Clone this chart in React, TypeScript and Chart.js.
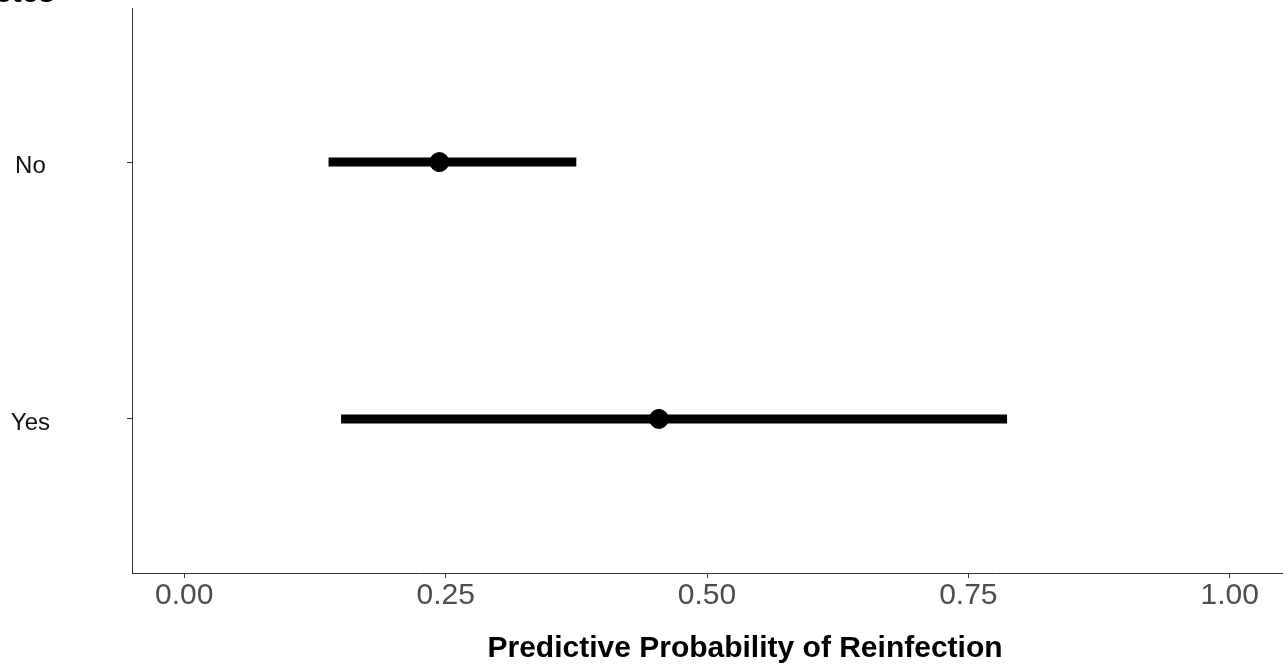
import React, { useEffect, useRef } from "react";
import { Chart, registerables } from "chart.js";

Chart.register(...registerables);

const categories: string[] = ["No", "Yes"];
const estimates: number[] = [0.244, 0.454];
const lowerBounds: number[] = [0.138, 0.15];
const upperBounds: number[] = [0.375, 0.787];
const xTickValues: number[] = [0, 0.25, 0.5, 0.75, 1];
const xTitle = "Predictive Probability of Reinfection";
const yTitle = "Diabetes";

const FONT = "'Liberation Sans', Arial, Helvetica, sans-serif";

export default function App() {
  const canvasRef = useRef<HTMLCanvasElement | null>(null);

  useEffect(() => {
    const canvas = canvasRef.current;
    if (!canvas) return;

    const rangeSets = categories.map((c, i) => ({
      type: "scatter" as const,
      label: c + " range",
      data: [
        { x: lowerBounds[i], y: i + 1 },
        { x: upperBounds[i], y: i + 1 },
      ],
      showLine: true,
      borderColor: "#000000",
      backgroundColor: "#000000",
      borderWidth: 9,
      borderCapStyle: "butt" as const,
      pointRadius: 0,
      pointHoverRadius: 0,
    }));

    const pointSet = {
      type: "scatter" as const,
      label: "estimate",
      data: categories.map((c, i) => ({ x: estimates[i], y: i + 1 })),
      showLine: false,
      pointRadius: 9.5,
      pointHoverRadius: 9.5,
      pointBackgroundColor: "#000000",
      pointBorderColor: "#000000",
      pointBorderWidth: 1,
    };

    const titlesPlugin = {
      id: "axisTitles",
      afterDraw(chart: any) {
        const ctx = chart.ctx;
        ctx.save();
        ctx.font = `bold 30px ${FONT}`;
        ctx.fillStyle = "#000000";
        // y-axis title at the top-left (partly outside the canvas, as in the reference)
        ctx.textAlign = "right";
        ctx.textBaseline = "alphabetic";
        ctx.fillText(yTitle, 55, 2);
        // x-axis title
        ctx.textAlign = "center";
        ctx.textBaseline = "middle";
        ctx.fillText(xTitle, 745, 649);
        ctx.restore();
      },
    };

    const chart = new Chart(canvas, {
      type: "scatter",
      data: { datasets: [...rangeSets, pointSet] as any },
      options: {
        animation: false,
        responsive: false,
        devicePixelRatio: 1,
        layout: { autoPadding: false, padding: { top: 8, right: 6, left: 0, bottom: 0 } },
        plugins: {
          legend: { display: false },
          tooltip: { enabled: false },
        },
        scales: {
          x: {
            type: "linear",
            min: -0.05,
            max: 1.05,
            afterBuildTicks: (scale: any) => {
              scale.ticks = xTickValues.map((v) => ({ value: v }));
            },
            afterFit: (scale: any) => {
              scale.height = 96;
              scale.paddingLeft = 0;
              scale.paddingRight = 0;
            },
            ticks: {
              callback: (v: any) => Number(v).toFixed(2),
              color: "#4D4D4D",
              font: { size: 30, family: FONT },
              padding: 0,
              maxRotation: 0,
              autoSkip: false,
            },
            grid: {
              drawOnChartArea: false,
              drawTicks: true,
              tickLength: 5,
              color: "#333333",
              lineWidth: 1,
            },
            border: { display: true, color: "#333333", width: 1 },
            title: { display: false },
          },
          y: {
            type: "linear",
            min: 0.4,
            max: 2.6,
            reverse: true,
            afterBuildTicks: (scale: any) => {
              scale.ticks = categories.map((c, i) => ({ value: i + 1 }));
            },
            afterFit: (scale: any) => {
              scale.width = 132;
              scale.paddingTop = 0;
              scale.paddingBottom = 0;
            },
            ticks: {
              callback: (v: any) => categories[Math.round(Number(v)) - 1] ?? "",
              color: "#111111",
              font: { size: 24, family: FONT },
              padding: 77,
              crossAlign: "center",
              labelOffset: 4,
              autoSkip: false,
            },
            grid: {
              drawOnChartArea: false,
              drawTicks: true,
              tickLength: 5,
              color: "#333333",
              lineWidth: 1,
            },
            border: { display: true, color: "#333333", width: 1 },
          },
        },
      } as any,
      plugins: [titlesPlugin],
    });

    return () => {
      chart.destroy();
    };
  }, []);

  return (
    <div style={{ position: "absolute", left: 0, top: 0, width: 1288, height: 669, background: "#ffffff" }}>
      <canvas ref={canvasRef} width={1288} height={669} style={{ display: "block", width: 1288, height: 669 }} />
    </div>
  );
}
